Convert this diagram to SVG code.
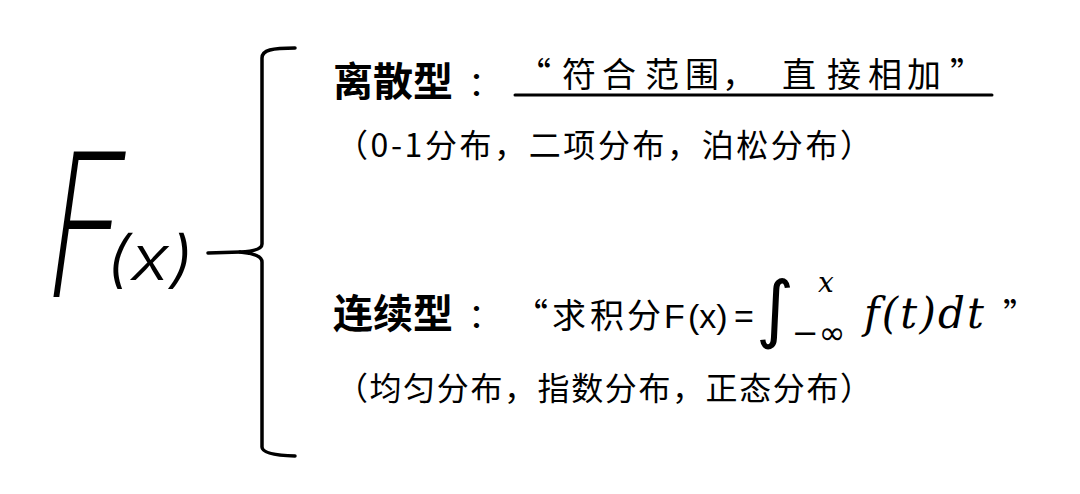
<svg xmlns="http://www.w3.org/2000/svg" width="1080" height="494" viewBox="0 0 1080 494">
<style>
.cjk{font-family:"Noto Sans CJK SC","Noto Sans",sans-serif;fill:#000}
.head{font-size:40px;font-weight:700}
.quote{font-size:34px;font-weight:400}
.sub{font-size:32px;font-weight:400}
.hand{font-family:"Inter","Roboto","DejaVu Sans",sans-serif;fill:#000}
.sans{font-family:"Liberation Sans",Arial,sans-serif;fill:#000}
.math{font-family:"DejaVu Serif","Liberation Serif",serif;font-style:italic;fill:#000}
.ln{stroke:#000;fill:none;stroke-linecap:round;stroke-linejoin:round}
</style>
<rect width="1080" height="494" fill="#fff"/>
<g id="connectors">
  <path class="ln" stroke-width="3.5" d="M208,253 L240,252"/>
  <path class="ln" stroke-width="3.5" d="M295,48 C272,48 262,50 262,58 L262,244 Q262,251 240,252 Q262,254 262,262 L262,447 Q262,455 295,456"/>
</g>
<g id="node-F">
  <text class="hand" transform="translate(40,297) skewX(-8) scale(0.64,1)" x="0" y="0" font-size="200" font-weight="150">F</text>
  <text class="hand" x="106" y="280" font-size="62" font-weight="300" font-style="italic" textLength="88" lengthAdjust="spacingAndGlyphs">(x)</text>
</g>
<g id="node-discrete">
  <text class="cjk head" x="333" y="96">离散型</text>
  <text class="cjk quote" x="468" y="96">：</text>
  <text class="cjk quote" x="517 562 602 645 685 722 782 827 868 907 950" y="87">“符合范围，直接相加”</text>
  <line class="ln" x1="515" y1="95" x2="992" y2="95" stroke-width="3"/>
  <text class="cjk sub" x="336" y="157" textLength="536" lengthAdjust="spacing">（0-1分布，二项分布，泊松分布）</text>
</g>
<g id="node-continuous">
  <text class="cjk head" x="333" y="328">连续型</text>
  <text class="cjk quote" x="468" y="328">：</text>
  <text class="cjk quote" x="514 552 590 627" y="328">“求积分</text>
  <text class="sans" x="664" y="328" font-size="34">F</text>
  <text class="sans" x="688" y="328" font-size="34">(x)</text>
  <text class="sans" x="734" y="328" font-size="34">=</text>
  <text x="756" y="334" font-family="DejaVu Sans, sans-serif" font-size="74" font-style="italic">∫</text>
  <text class="math" x="818" y="292" font-size="28">x</text>
  <text x="792" y="344" font-family="DejaVu Sans, sans-serif" font-size="32">−∞</text>
  <text class="math" x="864" y="328" font-size="42" textLength="120" lengthAdjust="spacing">f(t)dt</text>
  <text class="cjk quote" x="1003" y="328">”</text>
  <text class="cjk sub" x="336" y="400" textLength="536" lengthAdjust="spacing">（均匀分布，指数分布，正态分布）</text>
</g>
</svg>
